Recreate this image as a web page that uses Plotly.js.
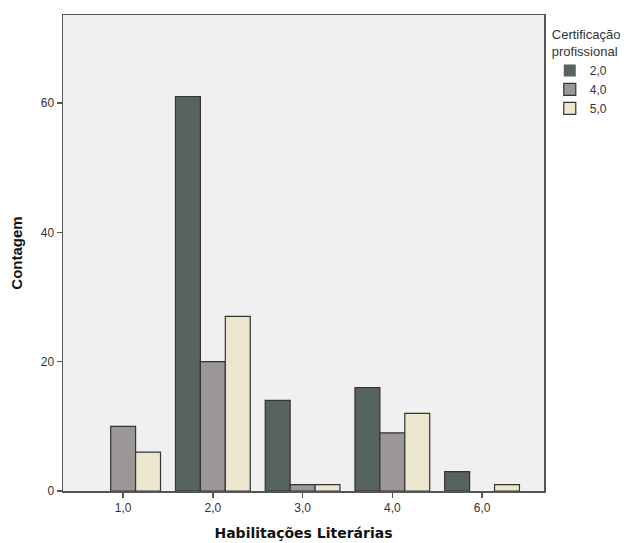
<!DOCTYPE html>
<html>
<head>
<meta charset="utf-8">
<script src="https://cdn.plot.ly/plotly-3.0.1.min.js"></script>
<style>html,body{margin:0;padding:0;background:#fff;}#chart{width:635px;height:543px;}</style>
</head>
<body>
<div id="chart"></div>
<script>
const categories = ["1,0", "2,0", "3,0", "4,0", "6,0"];
const seriesNames = ["2,0", "4,0", "5,0"];
const cert20 = [0, 61, 14, 16, 3];
const cert40 = [10, 20, 1, 9, 0];
const cert50 = [6, 27, 1, 12, 1];
const colors = ["#57645d", "#9c9797", "#ece6cf"];

const values = [cert20, cert40, cert50];
const traces = values.map((v, i) => ({
  type: "bar",
  name: seriesNames[i],
  x: categories,
  y: v,
  marker: {color: colors[i], line: {color: "#333333", width: v.map(d => d === 0 ? 0 : 1.2)}},
  hoverinfo: "x+y+name"
}));

const layout = {
  width: 635, height: 543,
  margin: {l: 63, r: 89, t: 15, b: 52},
  paper_bgcolor: "#ffffff",
  plot_bgcolor: "#f0f0f0",
  barmode: "group",
  bargap: 0.167,
  bargroupgap: 0,
  font: {family: "Liberation Sans, Arial, sans-serif", size: 12, color: "#333333"},
  xaxis: {
    type: "category",
    range: [-0.67, 4.69],
    showline: true, mirror: true, linecolor: "#555555", linewidth: 1.5,
    ticks: "outside", ticklen: 5, tickcolor: "#555555", tickwidth: 1.5,
    showgrid: false, zeroline: false,
    tickfont: {size: 12, color: "#333333"},
    title: {text: "Habilitações Literárias", font: {family: "DejaVu Sans, sans-serif", size: 14, color: "#111111", weight: "bold"}, standoff: 14}
  },
  yaxis: {
    range: [0, 73.6],
    tickvals: [0, 20, 40, 60],
    showline: true, mirror: true, linecolor: "#555555", linewidth: 1.5,
    ticks: "outside", ticklen: 5, tickcolor: "#555555", tickwidth: 1.5,
    showgrid: false, zeroline: false,
    tickfont: {size: 12, color: "#333333"},
    title: {text: "Contagem", font: {family: "Liberation Sans, Arial, sans-serif", size: 15, color: "#111111", weight: "bold"}, standoff: 14}
  },
  showlegend: true,
  legend: {
    x: 1.012, y: 0.985, xanchor: "left", yanchor: "top",
    bgcolor: "rgba(0,0,0,0)",
    title: {text: "Certificação<br>profissional", side: "top", font: {size: 13, color: "#333333"}},
    font: {size: 12, color: "#333333"},
    itemwidth: 30,
    tracegroupgap: 0
  }
};

Plotly.newPlot("chart", traces, layout, {displayModeBar: false, staticPlot: true});
</script>
</body>
</html>
